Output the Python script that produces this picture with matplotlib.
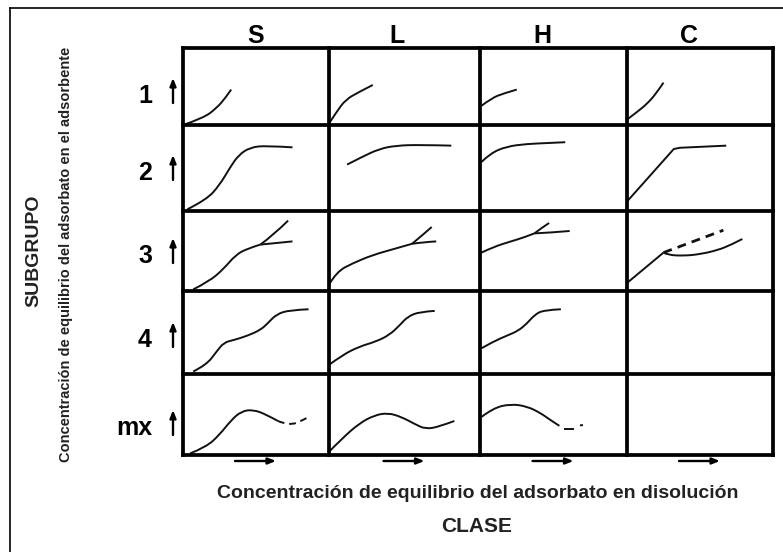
"""Giles isotherm classification grid (clase S/L/H/C x subgrupo 1-4/mx)."""
import matplotlib
matplotlib.use("Agg")
import matplotlib.pyplot as plt
from matplotlib.path import Path
from matplotlib.patches import PathPatch

CLASSES = ["S", "L", "H", "C"]
SUBGROUPS = ["1", "2", "3", "4", "mx"]
X_LABEL = "Concentración de equilibrio del adsorbato en disolución"
Y_LABEL = "Concentración de equilibrio del adsorbato en el adsorbente"

# curve sketches, (u, v) inside each cell, 0..1 from lower-left corner
S1 = [(0.0, 0.0), (0.14, 0.09), (0.23, 0.22), (0.29, 0.35), (0.33, 0.46)]
S2 = [(0.03, 0.02), (0.16, 0.13), (0.25, 0.30), (0.32, 0.50), (0.38, 0.65),
      (0.46, 0.74), (0.57, 0.76), (0.75, 0.74)]
S3 = [(0.07, 0.02), (0.18, 0.12), (0.28, 0.28), (0.36, 0.45), (0.44, 0.53), (0.53, 0.58)]
S3_UP = [(0.53, 0.58), (0.62, 0.70), (0.72, 0.88)]
S3_LOW = [(0.53, 0.58), (0.64, 0.60), (0.75, 0.62)]
S4 = [(0.07, 0.03), (0.16, 0.11), (0.23, 0.27), (0.28, 0.38), (0.35, 0.41), (0.44, 0.46),
      (0.53, 0.53), (0.58, 0.61), (0.64, 0.72), (0.73, 0.77), (0.86, 0.78)]
S5 = [(0.05, 0.02), (0.16, 0.10), (0.25, 0.25), (0.33, 0.43), (0.40, 0.54), (0.48, 0.56),
      (0.57, 0.50), (0.65, 0.42)]
S5_DASH = [(0.65, 0.42), (0.69, 0.39), (0.75, 0.38), (0.80, 0.41), (0.86, 0.47)]

L1 = [(0.0, 0.02), (0.05, 0.17), (0.11, 0.33), (0.20, 0.43), (0.29, 0.52)]
L2 = [(0.12, 0.54), (0.22, 0.63), (0.33, 0.72), (0.44, 0.76), (0.60, 0.77), (0.81, 0.76)]
L3 = [(0.0, 0.08), (0.05, 0.24), (0.16, 0.35), (0.29, 0.45), (0.42, 0.52), (0.55, 0.59)]
L3_UP = [(0.55, 0.59), (0.62, 0.70), (0.68, 0.80)]
L3_LOW = [(0.55, 0.59), (0.62, 0.61), (0.71, 0.62)]
L4 = [(0.0, 0.11), (0.09, 0.23), (0.20, 0.33), (0.31, 0.39), (0.40, 0.47), (0.47, 0.59),
      (0.52, 0.69), (0.60, 0.75), (0.70, 0.76)]
L5 = [(0.0, 0.04), (0.09, 0.21), (0.20, 0.39), (0.30, 0.49), (0.39, 0.52), (0.48, 0.47),
      (0.57, 0.38), (0.64, 0.32), (0.73, 0.35), (0.83, 0.42)]

H1 = [(0.01, 0.25), (0.08, 0.35), (0.16, 0.41), (0.25, 0.46)]
H2 = [(0.01, 0.57), (0.07, 0.67), (0.18, 0.75), (0.32, 0.78), (0.46, 0.79), (0.58, 0.80)]
H3 = [(0.01, 0.48), (0.09, 0.55), (0.21, 0.62), (0.30, 0.67), (0.37, 0.72)]
H3_UP = [(0.37, 0.72), (0.42, 0.79), (0.47, 0.85)]
H3_LOW = [(0.37, 0.72), (0.48, 0.73), (0.61, 0.75)]
H4 = [(0.01, 0.31), (0.09, 0.39), (0.18, 0.46), (0.26, 0.52), (0.32, 0.61), (0.37, 0.71),
      (0.43, 0.77), (0.55, 0.78)]
H5 = [(0.01, 0.47), (0.09, 0.58), (0.21, 0.63), (0.32, 0.60), (0.41, 0.52), (0.48, 0.43),
      (0.54, 0.36)]
H5_DASH = [(0.57, 0.32), (0.64, 0.32)]
H5_DOT = [(0.68, 0.365), (0.70, 0.37)]

C1 = [(0.0, 0.07), (0.07, 0.17), (0.14, 0.28), (0.20, 0.41), (0.25, 0.55)]
C2 = [(0.0, 0.11), (0.32, 0.72), (0.36, 0.735), (0.68, 0.76)]
C3 = [(0.0, 0.10), (0.25, 0.48)]
C3_DASH = [(0.25, 0.48), (0.66, 0.76)]
C3_LOW = [(0.25, 0.48), (0.28, 0.45), (0.39, 0.44), (0.50, 0.46), (0.62, 0.51),
          (0.71, 0.575), (0.79, 0.65)]

# (column, row) -> [(points, kind)], kind: smooth / line / dash / dashline
CURVES = {
    (0, 0): [(S1, "smooth")],
    (0, 1): [(S2, "smooth")],
    (0, 2): [(S3, "smooth"), (S3_UP, "smooth"), (S3_LOW, "smooth")],
    (0, 3): [(S4, "smooth")],
    (0, 4): [(S5, "smooth"), (S5_DASH, "dash")],
    (1, 0): [(L1, "smooth")],
    (1, 1): [(L2, "smooth")],
    (1, 2): [(L3, "smooth"), (L3_UP, "smooth"), (L3_LOW, "smooth")],
    (1, 3): [(L4, "smooth")],
    (1, 4): [(L5, "smooth")],
    (2, 0): [(H1, "smooth")],
    (2, 1): [(H2, "smooth")],
    (2, 2): [(H3, "smooth"), (H3_UP, "smooth"), (H3_LOW, "smooth")],
    (2, 3): [(H4, "smooth")],
    (2, 4): [(H5, "smooth"), (H5_DASH, "line"), (H5_DOT, "line")],
    (3, 0): [(C1, "smooth")],
    (3, 1): [(C2, "line")],
    (3, 2): [(C3, "line"), (C3_DASH, "dashline"), (C3_LOW, "smooth")],
}

# layout, in pixels of the 783x552 output
W, H = 783, 552
COL_EDGES = [183, 329, 480, 627, 773]
ROW_EDGES = [48, 125, 211, 291, 374, 455]
HEADER_X = [256, 397, 542, 689]
LABEL_BASE = [103, 180, 263, 347, 435]
FONT = "Liberation Sans"

fig = plt.figure(figsize=(W / 100, H / 100), dpi=100)


def px_axes(x0, y0, x1, y1):
    return fig.add_axes([x0 / W, 1 - y1 / H, (x1 - x0) / W, (y1 - y0) / H])


def smooth_path(pts):
    verts, codes = [pts[0]], [Path.MOVETO]
    if len(pts) == 2:
        return Path(pts, [Path.MOVETO, Path.LINETO])
    for i in range(1, len(pts) - 2):
        mid = ((pts[i][0] + pts[i + 1][0]) / 2, (pts[i][1] + pts[i + 1][1]) / 2)
        verts += [pts[i], mid]
        codes += [Path.CURVE3, Path.CURVE3]
    verts += [pts[-2], pts[-1]]
    codes += [Path.CURVE3, Path.CURVE3]
    return Path(verts, codes)


for (c, r), items in CURVES.items():
    ax = px_axes(COL_EDGES[c], ROW_EDGES[r], COL_EDGES[c + 1], ROW_EDGES[r + 1])
    ax.set_xlim(0, 1); ax.set_ylim(0, 1); ax.axis("off")
    for pts, kind in items:
        if kind in ("smooth", "dash"):
            ls = (0, (3.5, 2.5)) if kind == "dash" else "-"
            ax.add_patch(PathPatch(smooth_path(pts), fill=False, lw=1.4, ec="#111111",
                                   ls=ls, capstyle="butt", clip_on=False))
        else:
            ls = (0, (3.2, 2.2)) if kind == "dashline" else "-"
            lw = 2.0 if kind == "dashline" else 1.4
            ax.plot([p[0] for p in pts], [p[1] for p in pts], color="#111111", lw=lw, ls=ls,
                    solid_capstyle="butt", dash_capstyle="butt", clip_on=False)

ov = fig.add_axes([0, 0, 1, 1])
ov.set_xlim(0, W); ov.set_ylim(H, 0); ov.axis("off")

# outer frame (cut by the image on the right and bottom)
ov.plot([10, 10], [8, H + 5], color="black", lw=1.2)
ov.plot([10, W + 5], [8, 8], color="black", lw=1.2)

for x in COL_EDGES:
    ov.plot([x, x], [ROW_EDGES[0], ROW_EDGES[-1]], color="black", lw=2.7,
            solid_capstyle="projecting")
for y in ROW_EDGES:
    ov.plot([COL_EDGES[0], COL_EDGES[-1]], [y, y], color="black", lw=2.7,
            solid_capstyle="projecting")

for x, name in zip(HEADER_X, CLASSES):
    ov.text(x, 43, name, ha="center", va="baseline", fontsize=18, weight="bold", family=FONT)

arrow = dict(arrowstyle="-|>,head_length=0.45,head_width=0.18", lw=1.7, color="black",
             shrinkA=0, shrinkB=0)
for base, lab in zip(LABEL_BASE, SUBGROUPS):
    ov.text(152, base, lab, ha="right", va="baseline", fontsize=18, weight="bold", family=FONT)
    ov.annotate("", xy=(173, base - 25), xytext=(173, base), arrowprops=arrow)

for c in range(len(CLASSES)):
    cx = (COL_EDGES[c] + COL_EDGES[c + 1]) / 2
    ov.annotate("", xy=(cx + 20, 461), xytext=(cx - 21, 461), arrowprops=arrow)

ov.text(478, 494, X_LABEL, ha="center", va="center", fontsize=14, weight="bold",
        family=FONT, color="#222222")
ov.text(477, 527, "CLASE", ha="center", va="center", fontsize=15, weight="bold",
        family=FONT, color="#222222")
ov.text(34, 251, "SUBGRUPO", ha="center", va="center", rotation=90, fontsize=14,
        weight="bold", family=FONT, color="#222222")
ov.text(66, 254, Y_LABEL, ha="center", va="center", rotation=90, fontsize=10.5,
        weight="bold", family=FONT, color="#222222")

fig.savefig("out.png", dpi=100)
